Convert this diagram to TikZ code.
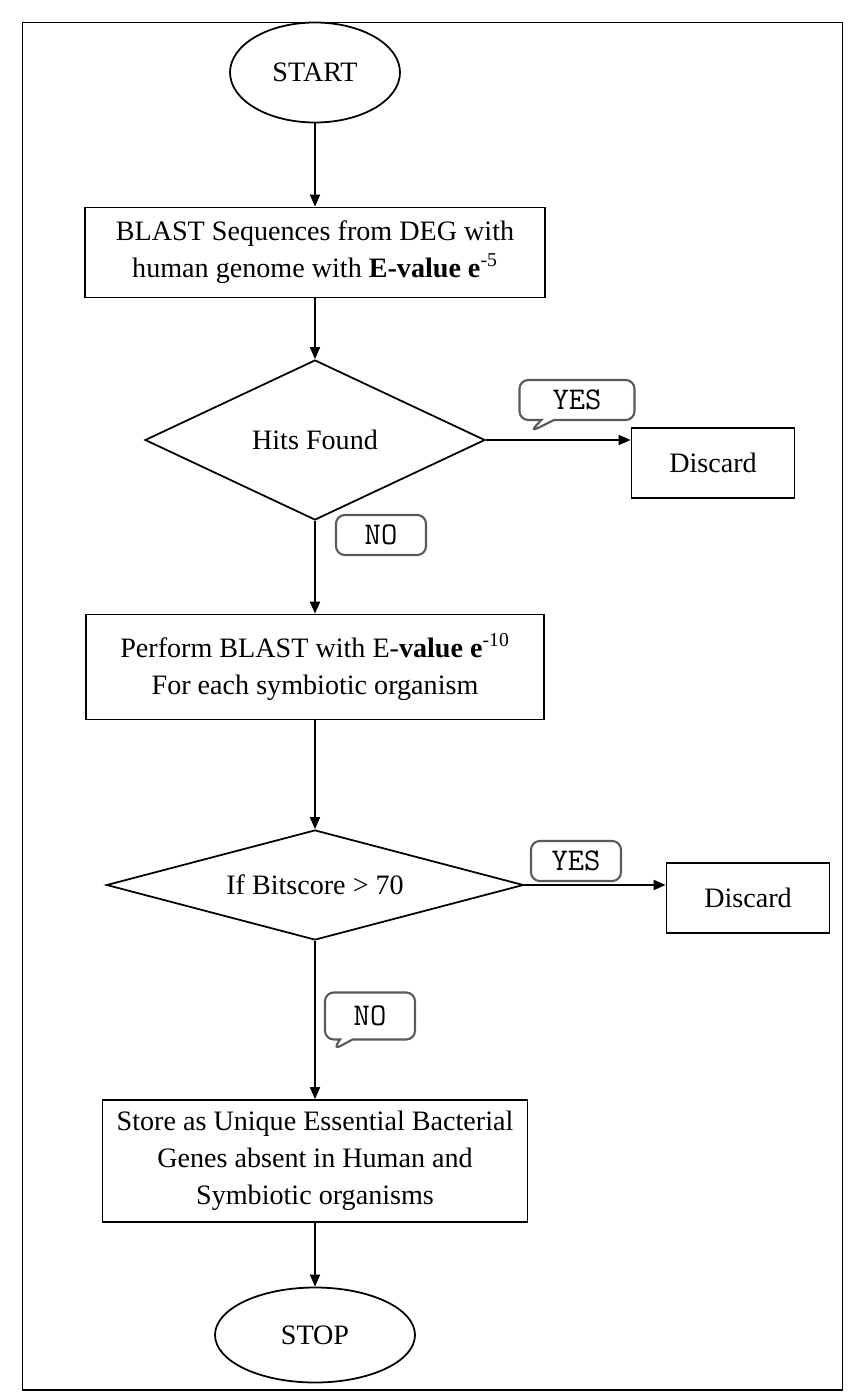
\documentclass[tikz,border=0pt]{standalone}
\usepackage{fontspec}
\setmainfont{Liberation Serif}
\usetikzlibrary{
  arrows.meta,
  positioning,
  shapes.geometric,
  shapes.callouts
}

\begin{document}
\begin{tikzpicture}[
  font=\fontsize{16}{21}\selectfont,
  process/.style={draw, line width=1pt, align=center, inner sep=2pt},
  term/.style={draw, ellipse, line width=1pt, inner sep=0pt},
  decision/.style={draw, diamond, aspect=2, line width=1pt, inner sep=0pt},
  reply/.style={draw=black!65, line width=1.2pt, rounded corners=5pt, minimum width=1.8cm, minimum height=0.8cm, font=\fontsize{18}{20}\selectfont\ttfamily},
  tail/.style={reply, rectangle callout, callout pointer width=0.25cm},
  arrow/.style={-{Triangle[length=2.4mm, width=2mm]}, line width=1pt}
]
  \useasboundingbox (0,0) rectangle (17.08,-28);

  % Page frame
  \node[draw, line width=1pt, minimum width=16.4cm, minimum height=27.35cm] (frame) at (8.65,-14.125) {};

  % Start
  \node[term, minimum width=3.4cm, minimum height=2cm] (start) at (6.3,-1.45) {START};

  % First BLAST
  \node[process, minimum width=9.2cm, minimum height=1.8cm] (blast) at (6.3,-5.05)
    {BLAST Sequences from DEG with\\ human genome with \textbf{E-value e}\textsuperscript{-5}};

  % Hits found?
  \node[decision, minimum width=6.8cm, minimum height=3.2cm] (hits) at (6.3,-8.8) {Hits Found};
  \node[process, minimum width=3.26cm, minimum height=1.4cm] (discA) at (14.26,-9.26) {Discard};
  \node[tail, minimum width=2.3cm, callout absolute pointer={(10.6,-8.64)}] (yesA) at (11.54,-8.0) {YES};
  \node[reply] (noA) at (7.62,-10.7) {NO};

  % Second BLAST
  \node[process, minimum width=9.16cm, minimum height=2.1cm] (perform) at (6.3,-13.34)
    {Perform BLAST with E-\textbf{value e}\textsuperscript{-10}\\ For each symbiotic organism};

  % Bitscore test
  \node[decision, minimum width=8.34cm, minimum height=2.2cm] (bits) at (6.3,-17.7) {If Bitscore > 70};
  \node[process, minimum width=3.26cm, minimum height=1.4cm] (discB) at (14.96,-17.96) {Discard};
  \node[reply] (yesB) at (11.52,-17.22) {YES};
  \node[tail, minimum height=0.94cm, callout absolute pointer={(6.66,-21.0)}] (noB) at (7.4,-20.32) {NO};

  % Store
  \node[process, minimum width=8.5cm, minimum height=2.44cm] (store) at (6.3,-23.22)
    {Store as Unique Essential Bacterial\\ Genes absent in Human and\\ Symbiotic organisms};

  % Stop
  \node[term, minimum width=4cm, minimum height=1.9cm] (stop) at (6.3,-26.7) {STOP};

  % Arrows
  \draw[arrow] (start) -- (blast);
  \draw[arrow] (blast) -- (hits);
  \draw[arrow] (hits.east) -- (hits.east -| discA.west);
  \draw[arrow] (hits) -- (perform);
  \draw[arrow] (perform) -- (bits);
  \draw[arrow] (bits.east) -- (bits.east -| discB.west);
  \draw[arrow] (bits) -- (store);
  \draw[arrow] (store) -- (stop);
\end{tikzpicture}
\end{document}
